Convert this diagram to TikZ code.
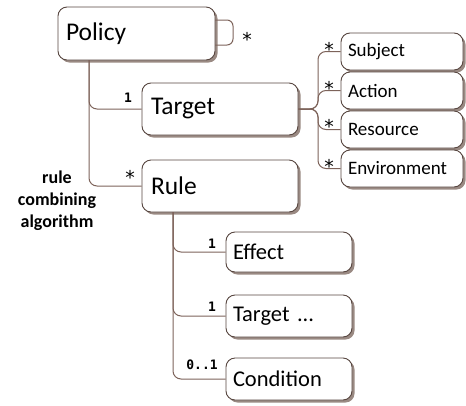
\documentclass[tikz,border=0pt]{standalone}
\usepackage{fontspec}
\setmainfont{Carlito}
\newfontfamily\labfont{DejaVu Sans Mono}
\newfontfamily\starfont{DejaVu Sans}
\usetikzlibrary{shadows}
\definecolor{boxc}{HTML}{574640}
\definecolor{linec}{HTML}{7D635A}
\definecolor{shadc}{HTML}{9A8A83}
\tikzset{
  bx/.style={draw=boxc, line width=0.9pt, fill=white, rounded corners=9pt,
    inner xsep=8pt, inner ysep=0pt, align=left,
    drop shadow={shadow xshift=2.5pt, shadow yshift=-2.5pt, fill=shadc, opacity=1}},
  big/.style={font=\fontsize{25.5}{28}\selectfont},
  mid/.style={font=\fontsize{22.5}{25}\selectfont},
  sml/.style={font=\fontsize{19}{21}\selectfont},
  conn/.style={draw=linec, line width=1pt, rounded corners=8pt},
  mult/.style={font=\labfont\bfseries\fontsize{13}{14}\selectfont, inner sep=0pt},
  star/.style={font=\starfont\fontsize{19}{20}\selectfont, inner sep=0pt, anchor=base},
  note/.style={font=\bfseries\fontsize{18}{22}\selectfont, align=center, inner sep=0pt}
}
\begin{document}
\begin{tikzpicture}[x=1pt,y=-1pt]
\useasboundingbox (0,0) rectangle (466,405);
% main boxes
\node[bx,big,text width=141pt,minimum height=53pt] (policy) at (136.5,33.5) {Policy};
\node[bx,big,text width=138pt,minimum height=52pt,inner xsep=9pt] (target) at (220,109) {Target};
\node[bx,big,text width=138pt,minimum height=52pt,inner xsep=9pt] (rule) at (220,186) {Rule};
% sub boxes of target
\node[bx,sml,text width=108pt,minimum height=37pt,inner xsep=7pt] (subject) at (402,51.5) {Subject};
\node[bx,sml,text width=108pt,minimum height=37pt,inner xsep=7pt] (action) at (402,90.5) {Action};
\node[bx,sml,text width=108pt,minimum height=37pt,inner xsep=7pt] (resource) at (402,129.5) {Resource};
\node[bx,sml,text width=108pt,minimum height=37pt,inner xsep=7pt] (environment) at (402,168.5) {Environment};
% sub boxes of rule
\node[bx,mid,text width=112pt,minimum height=40pt,inner xsep=7pt] (effect) at (289,252) {Effect};
\node[bx,mid,text width=112pt,minimum height=42pt,inner xsep=7pt] (target2) at (289,316) {Target ...};
\node[bx,mid,text width=112pt,minimum height=42pt,inner xsep=7pt] (condition) at (289,379) {Condition};
% trunk coordinates
\coordinate (ptop) at (89,60);
\coordinate (rtop) at (173,212);
\coordinate (tj) at (318,109);
% policy connectors
\draw[conn] (ptop) |- (target.west);
\draw[conn] (ptop) |- (rule.west);
% self loop
\coordinate (l1) at (215,20);
\coordinate (l2) at (233,20);
\coordinate (l3) at (233,45);
\coordinate (l4) at (215,45);
\draw[conn,rounded corners=6pt] (l1) -- (l2) -- (l3) -- (l4);
\node[star] (loopstar) at (247,46.5) {*};
% target to subs
\draw[conn] (target.east) -- (tj) |- (subject.west);
\draw[conn] (target.east) -- (tj) |- (action.west);
\draw[conn] (target.east) -- (tj) |- (resource.west);
\draw[conn] (target.east) -- (tj) |- (environment.west);
% rule to subs
\draw[conn] (rtop) |- (effect.west);
\draw[conn] (rtop) |- (target2.west);
\draw[conn] (rtop) |- (condition.west);
% multiplicities
\node[mult] (m1) at (128,98) {1};
\node[star] (m2) at (130,184.5) {*};
\node[star] (s1) at (329,56.5) {*};
\node[star] (s2) at (329,95) {*};
\node[star] (s3) at (329,133.5) {*};
\node[star] (s4) at (329,173) {*};
\node[mult] (m3) at (212,244) {1};
\node[mult] (m4) at (212,307) {1};
\node[mult] (m5) at (202,365) {0..1};
\node[note] (alg) at (57,201) {rule\\combining\\algorithm};
\end{tikzpicture}
\end{document}
